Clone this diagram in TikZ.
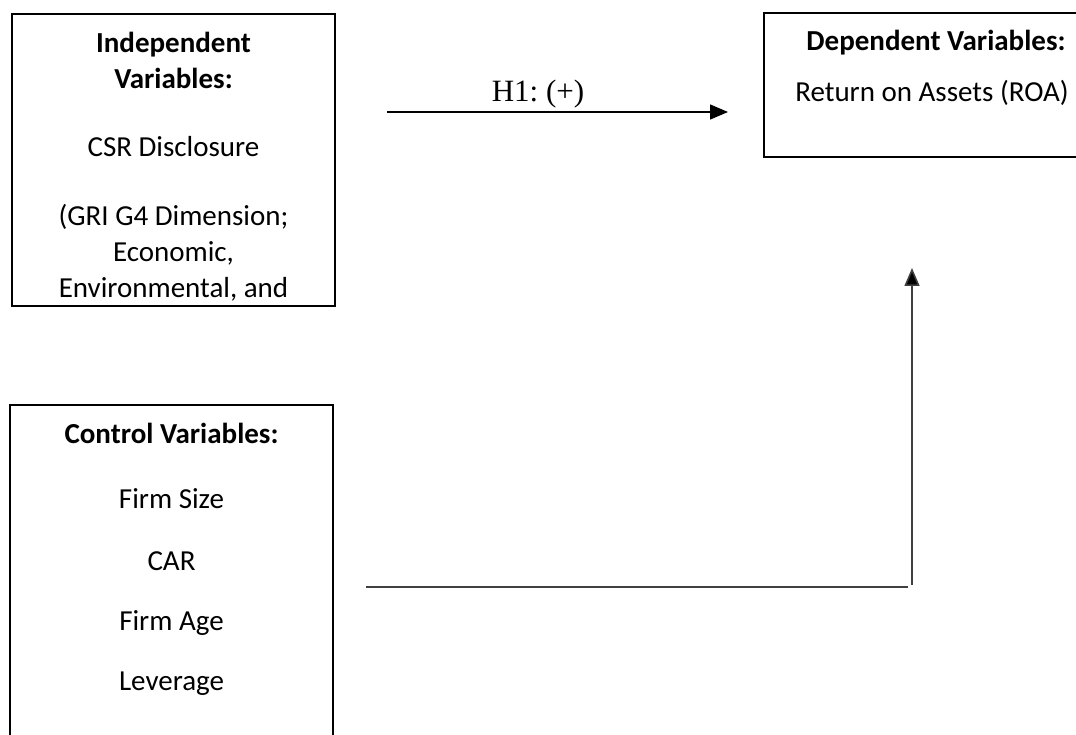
\documentclass[tikz,border=0pt]{standalone}
\usepackage{fontspec}
\setmainfont{Carlito}
\newfontfamily\timesf{Liberation Serif}
\usetikzlibrary{arrows.meta}
\frenchspacing
\begin{document}
\begin{tikzpicture}[x=1pt,y=-1pt,
  box/.style={draw=black,line width=1.8pt,inner sep=0pt},
  lbl/.style={font=\fontsize{29}{35}\selectfont,anchor=base,inner sep=0pt},
  hd/.style={font=\fontsize{29}{35}\selectfont\bfseries,anchor=base,inner sep=0pt},
  conn/.style={draw=black,line width=1.5pt},
  gconn/.style={draw=black!75,line width=1.6pt},
  tip/.style={-{Triangle[length=18pt,width=15pt,fill=black]}}]
\useasboundingbox (0,0) rectangle (1076,735);
\clip (0,0) rectangle (1076,735);
\fill[white] (0,0) rectangle (1076,735);
% boxes
\node[box,minimum width=323pt,minimum height=292pt] (ind) at (173.5,160) {};
\node[box,minimum width=328pt,minimum height=144pt] (dep) at (928,85) {};
\node[box,minimum width=323pt,minimum height=355pt] (ctl) at (171.5,582.5) {};
% independent text
\node[hd] (i1) at (173.5,53) {Independent};
\node[hd] (i2) at (173.5,89) {Variables:};
\node[lbl] (i3) at (173.5,157) {CSR Disclosure};
\node[lbl] (i4) at (173.5,226) {(GRI G4 Dimension;};
\node[lbl] (i5) at (173.5,262) {Economic,};
\node[lbl] (i6) at (173.5,298) {Environmental, and};
% dependent text
\node[hd] (d1) at (936,51) {Dependent Variables:};
\node[lbl] (d2) at (932,102) {Return on Assets (ROA)};
% control text
\node[hd] (c1t) at (171.5,443) {Control Variables:};
\node[lbl] (c2t) at (171.5,508) {Firm Size};
\node[lbl] (c3t) at (171.5,570) {CAR};
\node[lbl] (c4t) at (171.5,630) {Firm Age};
\node[lbl] (c5t) at (171.5,690) {Leverage};
% connectors
\coordinate (h1s) at (387,112);
\coordinate (h1e) at (728,112);
\draw[conn,tip] (h1s) -- (h1e);
\node[font=\timesf\fontsize{31}{36}\selectfont,anchor=base,inner sep=0pt] (h1) at (538,102) {H1: (+)};
\coordinate (cl1) at (366,587);
\coordinate (cl2) at (908,587);
\coordinate (vl1) at (912,585);
\coordinate (vl2) at (912,268);
\draw[gconn] (cl1) -- (cl2);
\draw[gconn,tip] (vl1) -- (vl2);
\end{tikzpicture}
\end{document}
